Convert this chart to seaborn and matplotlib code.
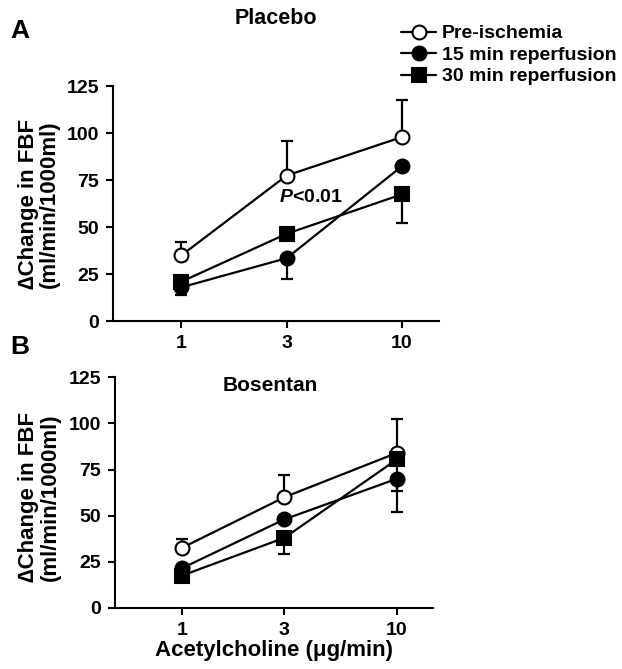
import matplotlib
matplotlib.use("Agg")
import matplotlib.pyplot as plt
from matplotlib.lines import Line2D
import seaborn as sns
import pandas as pd

# doses (ug/min)
doses = [1, 3, 10]
tick_labels = ["1", "3", "10"]
groups = ["Pre-ischemia", "15 min reperfusion", "30 min reperfusion"]

# Placebo panel (means and one-sided SE)
plac_pre = [35, 77.5, 98]
plac_pre_err = [7, 18.5, 19.5]      # upward
plac_15 = [18, 33.5, 82.5]
plac_15_err = [4, 11, 0]            # downward
plac_30 = [21, 46.5, 67.5]
plac_30_err = [0, 0, 15.5]          # downward

# Bosentan panel
bos_pre = [32.5, 60, 84]
bos_pre_err = [5, 12, 18.5]
bos_15 = [21.5, 48, 70]
bos_15_err = [0, 0, 18]
bos_30 = [17.5, 38, 80.5]
bos_30_err = [0, 8.5, 17]

sns.set_style("ticks")
plt.rcParams["font.family"] = ["Liberation Sans", "DejaVu Sans"]
plt.rcParams["font.weight"] = "bold"
plt.rcParams["mathtext.fontset"] = "custom"
plt.rcParams["mathtext.it"] = "Liberation Sans:italic:bold"
plt.rcParams["mathtext.rm"] = "Liberation Sans:bold"
for k in ["text.color", "axes.labelcolor", "xtick.color", "ytick.color", "axes.edgecolor"]:
    plt.rcParams[k] = "black"

FS = 14
markers = {"Pre-ischemia": "o", "15 min reperfusion": "o", "30 min reperfusion": "s"}
faces = {"Pre-ischemia": "white", "15 min reperfusion": "black", "30 min reperfusion": "black"}

fig = plt.figure(figsize=(6.22, 6.69), dpi=100)
ax1 = fig.add_axes([0.1817, 0.520, 0.524, 0.351])
ax2 = fig.add_axes([0.185, 0.0912, 0.511, 0.345])


def draw_panel(ax, means, errs, up):
    for g, m, e, u in zip(groups, means, errs, up):
        lo = [0] * 3 if u else e
        hi = e if u else [0] * 3
        ax.errorbar(doses, m, yerr=[lo, hi], fmt="none", ecolor="black",
                    elinewidth=1.6, capsize=4.5, capthick=1.6, zorder=1)
        df = pd.DataFrame({"dose": doses, "value": m})
        sns.lineplot(data=df, x="dose", y="value", ax=ax, color="black",
                     linewidth=1.6, marker=markers[g], markersize=10,
                     markerfacecolor=faces[g], markeredgecolor="black",
                     markeredgewidth=1.5, zorder=3)
    ax.set_xscale("log")
    ax.set_xlim(0.49, 14.7)
    ax.set_ylim(0, 125)
    ax.set_xticks(doses)
    ax.set_xticklabels(tick_labels)
    ax.minorticks_off()
    ax.set_yticks([0, 25, 50, 75, 100, 125])
    ax.tick_params(direction="out", length=5, width=1.5, labelsize=FS, pad=5)
    for s in ["left", "bottom"]:
        ax.spines[s].set_linewidth(1.5)
    sns.despine(ax=ax)
    ax.set_ylabel("\u2206Change in FBF\n(ml/min/1000ml)", fontsize=16,
                  fontweight="bold", linespacing=1.0)


draw_panel(ax1, [plac_pre, plac_15, plac_30],
           [plac_pre_err, plac_15_err, plac_30_err], [True, False, False])
draw_panel(ax2, [bos_pre, bos_15, bos_30],
           [bos_pre_err, bos_15_err, bos_30_err], [True, False, False])
ax1.yaxis.set_label_coords(-0.163, 0.5)
ax2.yaxis.set_label_coords(-0.172, 0.48)

ax1.set_xlabel("")
ax2.set_xlabel("Acetylcholine (\u03bcg/min)", fontsize=16, fontweight="bold", labelpad=1)

ax1.text(3.85, 66, r"$\mathit{P}$<0.01", fontsize=FS, fontweight="bold",
         ha="center", va="center")
ax2.text(0.487, 0.965, "Bosentan", transform=ax2.transAxes, fontsize=15,
         fontweight="bold", ha="center", va="center")
fig.text(0.444, 0.973, "Placebo", fontsize=15.5, fontweight="bold",
         ha="center", va="center")
fig.text(0.016, 0.953, "A", fontsize=19, fontweight="bold", va="center")
fig.text(0.016, 0.481, "B", fontsize=19, fontweight="bold", va="center")

handles = [Line2D([], [], color="black", linewidth=1.6, marker=markers[g],
                  markersize=10, markerfacecolor=faces[g],
                  markeredgecolor="black", markeredgewidth=1.5) for g in groups]
fig.legend(handles, groups, loc="upper left", bbox_to_anchor=(0.645, 0.963),
           frameon=False, fontsize=14, handlelength=1.8, handletextpad=0.3,
           labelspacing=0.2, borderpad=0, borderaxespad=0)

fig.savefig("out.png", dpi=100)
